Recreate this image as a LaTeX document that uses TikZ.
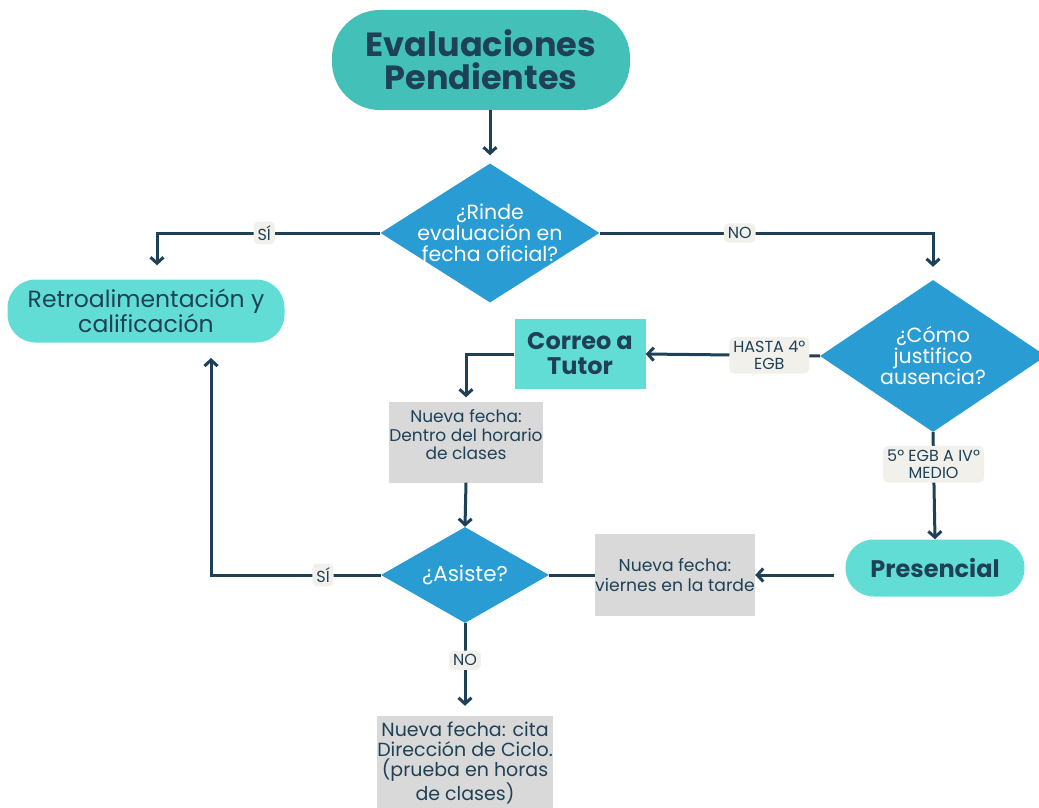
\documentclass[tikz,border=0pt]{standalone}
\usepackage{fontspec}
\setmainfont{Poppins}
\usetikzlibrary{shapes.geometric,arrows.meta}

\definecolor{navy}{HTML}{1E4157}
\definecolor{topteal}{HTML}{43C1B8}
\definecolor{liteal}{HTML}{62DDD6}
\definecolor{decblue}{HTML}{2A9CD4}
\definecolor{boxgray}{HTML}{D9D9D9}
\definecolor{lblbg}{HTML}{F2F0EA}

\begin{document}
\begin{tikzpicture}[x=1pt,y=-1pt,
  every node/.style={text=navy,align=center,inner sep=0pt},
  flow/.style={draw=navy,line width=3pt,-{Straight Barb[length=6pt,width=13pt,line width=3pt]}},
  link/.style={draw=navy,line width=3pt},
  decision/.style={diamond,fill=decblue,text=white,inner xsep=-15pt,font=\fontsize{20.5}{21}\selectfont},
  pill/.style={fill=liteal,rounded corners=28pt},
  graybox/.style={fill=boxgray,font=\fontsize{17}{18.5}\selectfont},
  lbl/.style={fill=lblbg,rounded corners=5pt,inner sep=4pt,font=\fontsize{16}{17}\selectfont}]
\useasboundingbox (0,0) rectangle (1039,808);

\node[fill=topteal,rounded corners=48pt,minimum width=298,minimum height=100,
  font=\fontsize{33.5}{33}\selectfont\bfseries] (top) at (481,60) {Evaluaciones\\Pendientes};
\node[decision,aspect=1.6,minimum width=219,minimum height=139] (d1) at (490,233)
  {¿Rinde\\evaluación en\\fecha oficial?};
\node[pill,minimum width=277,minimum height=63,font=\fontsize{23.5}{25}\selectfont] (retro) at (146,311)
  {Retroalimentación y\\calificación};
\node[decision,aspect=1.49,minimum width=226,minimum height=152] (d2) at (933,356)
  {¿Cómo\\justifico\\ausencia?};
\node[fill=liteal,minimum width=131,minimum height=70,font=\fontsize{24}{25}\selectfont\bfseries] (correo) at (580,354)
  {Correo a\\Tutor};
\node[graybox,minimum width=154,minimum height=81,text depth=14pt] (nf1) at (466,442)
  {Nueva fecha:\\Dentro del horario\\de clases};
\node[decision,aspect=1.75,minimum width=168,minimum height=96,font=\fontsize{21.5}{22}\selectfont] (d3) at (465,575) {¿Asiste?};
\node[graybox,minimum width=160,minimum height=82,font=\fontsize{17.2}{20}\selectfont] (nf2) at (675,575)
  {Nueva fecha:\\viernes en la tarde};
\node[pill,minimum width=179,minimum height=57,font=\fontsize{24}{26}\selectfont\bfseries] (pres) at (935,568)
  {Presencial};
\node[graybox,minimum width=174,minimum height=94,font=\fontsize{19}{20.3}\selectfont] (nf3) at (465,763)
  {Nueva fecha: cita\\Dirección de Ciclo.\\(prueba en horas\\de clases)};

\draw[flow,shorten >=8pt] (d1.north |- top.south) -- (d1.north);
\draw[flow,shorten >=14pt] (d1.west) -- node[lbl,pos=0.52] {SÍ} (157,233) -- (retro.north -| 157,0);
\draw[flow,shorten >=13pt] (d1.east) -- node[lbl,pos=0.42] {NO} (933,233) -- (d2.north);
\draw[flow] (d2.west) -- node[lbl,pos=0.29] {HASTA 4º\\EGB} (correo.east);
\draw[flow,shorten >=4pt] (correo.west) -| (nf1.north);
\draw[flow] (nf1.south) -- (d3.north);
\draw[flow] (d2.south) -- node[lbl,pos=0.3] {5º EGB A IVº\\MEDIO} (pres.north);
\draw[flow,shorten <=11pt] (nf2.east -| pres.west) -- (nf2.east);
\draw[link] (nf2.west) -- (d3.east);
\draw[flow,shorten >=15pt] (d3.west) -- node[lbl,pos=0.34] {SÍ} (211,575) -- (211,343);
\draw[flow,shorten >=10pt] (d3.south) -- node[lbl,pos=0.4] {NO} (nf3.north);
\end{tikzpicture}
\end{document}
